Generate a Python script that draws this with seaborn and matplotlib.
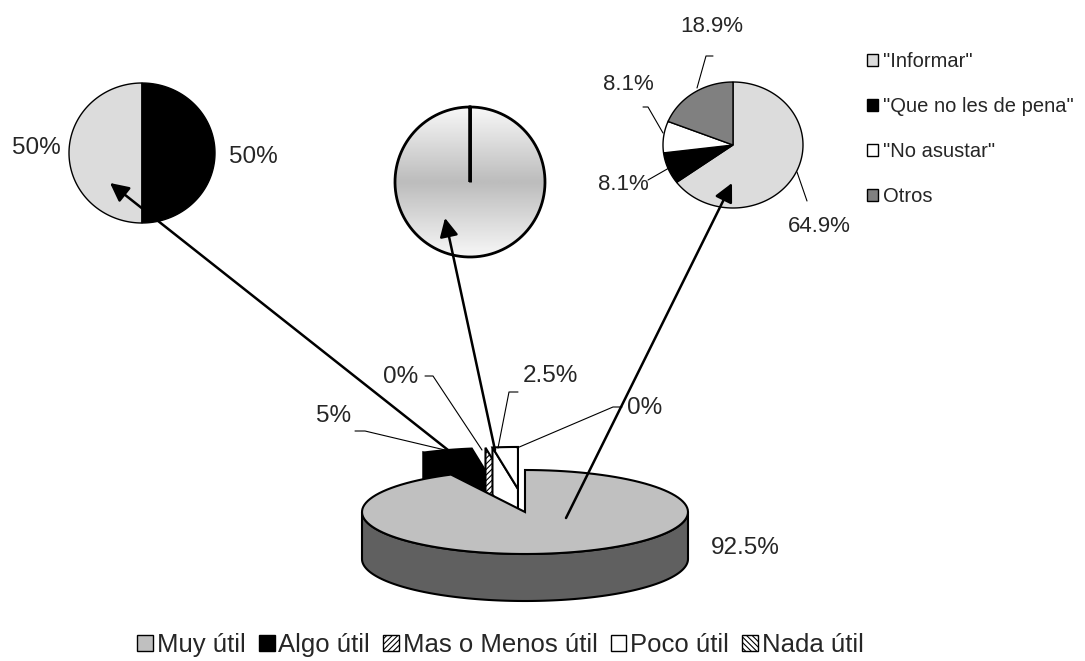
import numpy as np
import matplotlib
matplotlib.use("Agg")
import matplotlib.pyplot as plt
import seaborn as sns
from matplotlib.patches import Polygon, Patch, Ellipse
from matplotlib.colors import LinearSegmentedColormap

sns.set_style("white")
plt.rcParams['font.family'] = ['Liberation Sans', 'DejaVu Sans']
plt.rcParams['hatch.linewidth'] = 0.8

# main pie
categorias = ["Muy útil", "Algo útil", "Mas o Menos útil", "Poco útil", "Nada útil"]
valores = [92.5, 5, 0, 2.5, 0]
# pie "Algo útil"
valores_izq = [50, 50]
# pie "Poco útil"
valores_centro = [100, 0]
# pie "Muy útil"
razones = ['"Informar"', '"Que no les de pena"', '"No asustar"', 'Otros']
valores_der = [64.9, 8.1, 8.1, 18.9]

top_col = ['#c0c0c0', 'black', 'white', 'white', 'white']
side_col = ['#606060', 'black', 'white', 'white', 'white']
hatches = [None, None, '//////', None, '\\\\\\\\\\\\']
explode = [0, 0.55, 0.55, 0.55, 0.55]
orden = [1, 2, 3, 4, 0]


def arc(cx, cy, rx, ry, t0, t1, n=120):
    t = np.radians(np.linspace(t0, t1, n))
    return np.column_stack([cx + rx * np.cos(t), cy - ry * np.sin(t)])


def spans(vals, start=90):
    tot = sum(vals)
    cum = np.concatenate([[0], np.cumsum(vals)]) / tot * 360
    return [(start - cum[i + 1], start - cum[i]) for i in range(len(vals))]


def pie2d(ax, vals, colors, cx, cy, rx, ry, start=90, lw=1.5):
    for (a, b), c in zip(spans(vals, start), colors):
        pts = np.vstack([[cx, cy], arc(cx, cy, rx, ry, a, b)])
        ax.add_patch(Polygon(pts, closed=True, fc=c, ec='black', lw=lw))


def pie3d(ax, vals, cx, cy, rx, ry, depth):
    sp = spans(vals)
    for i in orden:
        a, b = sp[i]
        mid = np.radians((a + b) / 2)
        ox, oy = explode[i] * rx * np.cos(mid), -explode[i] * ry * np.sin(mid)
        x0, y0 = cx + ox, cy + oy
        kw = dict(closed=True, ec='black', lw=1.5, hatch=hatches[i])
        # radial faces
        for ang, vis in ((a, np.cos(np.radians(a)) > 1e-9), (b, np.cos(np.radians(b)) < -1e-9)):
            if vis:
                r = np.radians(ang)
                px, py = x0 + rx * np.cos(r), y0 - ry * np.sin(r)
                quad = [[x0, y0], [px, py], [px, py + depth], [x0, y0 + depth]]
                ax.add_patch(Polygon(quad, fc=side_col[i], **kw))
        # front rim
        for k in (-1, 0, 1):
            lo, hi = max(a, -180 + 360 * k), min(b, 360 * k)
            if hi > lo:
                t = arc(x0, y0, rx, ry, lo, hi)
                pts = np.vstack([t, (t + [0, depth])[::-1]])
                ax.add_patch(Polygon(pts, fc=side_col[i], **kw))
        if vals[i] > 0:
            pts = np.vstack([[x0, y0], arc(x0, y0, rx, ry, a, b)])
            ax.add_patch(Polygon(pts, fc=top_col[i], **kw))


fig = plt.figure(figsize=(10.85, 6.61), dpi=100)
ax = fig.add_axes([0, 0, 1, 1])
ax.set_xlim(0, 1085)
ax.set_ylim(661, 0)
ax.axis('off')

fs = 17.5
lk = dict(color='black', lw=0.8)

# ---- main 3D pie
pie3d(ax, valores, 525, 512, 163, 42, 47)
etq = [f"{v:g}%" for v in valores]
ax.text(745, 548, etq[0], fontsize=fs, ha='center', va='center')
ax.text(334, 416, etq[1], fontsize=fs, ha='center', va='center')
ax.plot([355, 365, 445], [431, 431, 450], **lk)
ax.text(401, 377, etq[2], fontsize=fs, ha='center', va='center')
ax.plot([425, 433, 482], [376, 376, 450], **lk)
ax.text(550, 376, etq[3], fontsize=fs, ha='center', va='center')
ax.plot([518, 509, 498], [392, 392, 448], **lk)
ax.text(645, 408, etq[4], fontsize=fs, ha='center', va='center')
ax.plot([622, 613, 517], [407, 407, 448], **lk)

# ---- left pie
pie2d(ax, valores_izq, ['#dcdcdc', 'black'], 142, 153, 73, 70, start=270, lw=1)
ax.text(36, 148, f"{valores_izq[0]:g}%", fontsize=fs, ha='center', va='center')
ax.text(253, 157, f"{valores_izq[1]:g}%", fontsize=fs, ha='center', va='center')

# ---- middle pie with gradient
cxm, cym, rm = 470, 182, 75
grad = np.concatenate([np.linspace(0, 1, 50), np.linspace(1, 0, 50)])[:, None]
cmap = LinearSegmentedColormap.from_list('g', ['#f7f7f7', '#bdbdbd'])
im = ax.imshow(grad, cmap=cmap, extent=[cxm - rm, cxm + rm, cym + rm, cym - rm],
               aspect='auto', origin='upper', zorder=1)
clip = Ellipse((cxm, cym), 2 * rm, 2 * rm, transform=ax.transData)
im.set_clip_path(clip)
pie2d(ax, valores_centro, ['none', 'none'], cxm, cym, rm, rm, lw=2)

# ---- right pie
fs2 = 16
cxr, cyr = 733, 145
pie2d(ax, valores_der, ['#dcdcdc', 'black', 'white', '#808080'], cxr, cyr, 70, 63, lw=1)
ax.text(819, 227, f"{valores_der[0]:g}%", fontsize=fs2, ha='center', va='center')
ax.plot([807, 797], [201, 172], **lk)
ax.text(623, 185, f"{valores_der[1]:g}%", fontsize=fs2, ha='center', va='center')
ax.plot([648, 669], [180, 168], **lk)
ax.text(628, 85, f"{valores_der[2]:g}%", fontsize=fs2, ha='center', va='center')
ax.plot([643, 648, 663], [107, 107, 133], **lk)
ax.text(712, 26, f"{valores_der[3]:g}%", fontsize=fs2, ha='center', va='center')
ax.plot([713, 706, 697], [56, 56, 88], **lk)

ax.set_xlim(0, 1085)
ax.set_ylim(661, 0)

# ---- arrows
ap = dict(arrowstyle='-|>', lw=1.8, color='black', mutation_scale=28, shrinkA=0, shrinkB=0)
ax.annotate('', xy=(110, 183), xytext=(448, 450), arrowprops=ap)
ax.annotate('', xy=(445, 218), xytext=(495, 450), arrowprops=ap)
ax.annotate('', xy=(732, 183), xytext=(566, 518), arrowprops=ap)

# ---- legends
h1 = [Patch(fc=c, ec='black', hatch=h) for c, h in zip(top_col, hatches)]
fig.legend(h1, categorias, loc='center left', bbox_to_anchor=(127 / 1085, 1 - 645 / 661),
           ncol=5, frameon=False, fontsize=18.5, handlelength=0.62, handleheight=0.62,
           handletextpad=0.15, columnspacing=0.5, borderaxespad=0)

h2 = [Patch(fc=c, ec='black') for c in ['#dcdcdc', 'black', 'white', '#808080']]
fig.legend(h2, razones, loc='upper left', bbox_to_anchor=(859 / 1085, 1 - 44 / 661),
           frameon=False, handlelength=0.55, handleheight=0.55, handletextpad=0.25,
           labelspacing=1.29, fontsize=14.5, borderaxespad=0)

fig.savefig('out.png', dpi=100)
